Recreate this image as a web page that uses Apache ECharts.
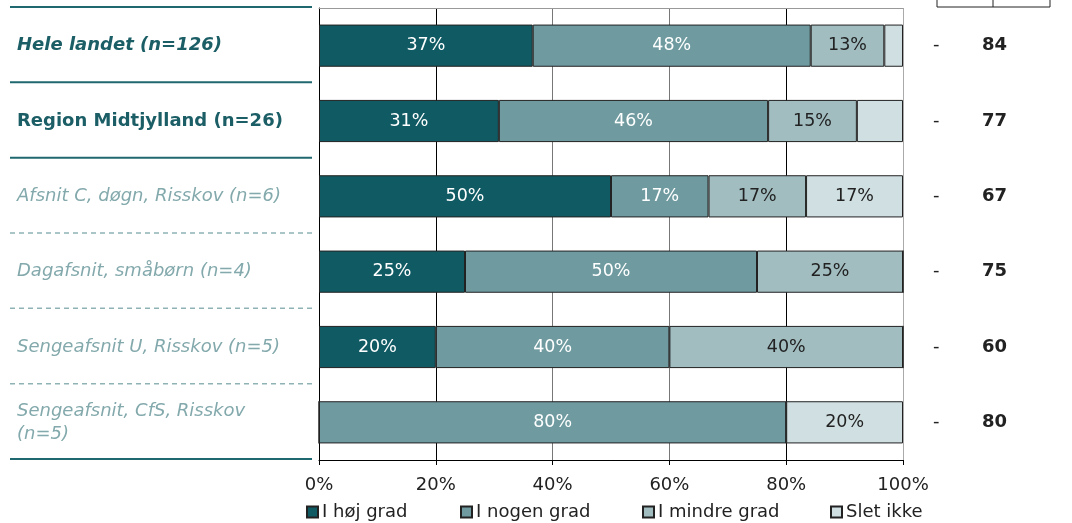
<!DOCTYPE html>
<html><head><meta charset="utf-8">
<script src="https://cdn.jsdelivr.net/npm/echarts@6/dist/echarts.min.js"></script>
<style>html,body{margin:0;padding:0;background:#fff}#c{width:1072px;height:523px}</style>
</head><body><div id="c"></div>
<script>
const categories = ['Hele landet (n=126)','Region Midtjylland (n=26)','Afsnit C, døgn, Risskov (n=6)','Dagafsnit, småbørn (n=4)','Sengeafsnit U, Risskov (n=5)','Sengeafsnit, CfS, Risskov\n(n=5)'];
const seriesNames = ['I høj grad','I nogen grad','I mindre grad','Slet ikke'];
const hoej   = [36.6, 30.8, 50, 25, 20, 0];
const nogen  = [47.6, 46.1, 16.7, 50, 40, 80];
const mindre = [12.6, 15.2, 16.7, 25, 40, 0];
const slet   = [3.2, 7.9, 16.6, 0, 0, 20];
const scores = [84, 77, 67, 75, 60, 80];
const dashes = ['-','-','-','-','-','-'];
const xTicks = [0,20,40,60,80,100];

const FONT = 'DejaVu Sans';
const FS = 18;
const colors = ['#105a64','#6f9ba0','#a1bdc0','#d0dfe1'];
const labelColors = ['#fff','#fff','#222','#222'];
const values = [hoej, nogen, mindre, slet];
const legendLeft = [306, 460, 642, 830];

const GL = 319, GR = 903, GT = 8, GB = 460;
const chart = echarts.init(document.getElementById('c'));
const catStyle = ['a','b','c','c','c','c'];

const series = values.map((arr, i) => ({
  name: seriesNames[i], type: 'bar', stack: 'all', barWidth: '56%',
  data: arr,
  itemStyle: { color: colors[i], borderColor: '#222', borderWidth: 1 },
  label: { show: true, position: 'inside', color: labelColors[i], fontFamily: FONT, fontSize: 17.5,
    formatter: p => p.value >= 10 ? Math.round(p.value) + '%' : '' },
  emphasis: { disabled: true }, animation: false
}));

const h = (GB - GT) / categories.length;
const graphics = [];
for (let i = 0; i <= categories.length; i++) {
  const y = GT + i * h;
  const solid = i <= 2 || i === categories.length;
  graphics.push({ type: 'line', shape: { x1: 10, y1: y - 1, x2: 312, y2: y - 1 },
    style: solid ? { stroke: '#1f6870', lineWidth: 2 } : { stroke: '#8fb3b5', lineWidth: 1.5, lineDash: [5, 4] } });
}
graphics.push({ type: 'polyline', shape: { points: [[937, 0], [937, 7], [1050, 7], [1050, 0]] }, style: { stroke: '#222', lineWidth: 1, fill: null } });
graphics.push({ type: 'line', shape: { x1: 993, y1: 0, x2: 993, y2: 7 }, style: { stroke: '#222', lineWidth: 1 } });

const legends = seriesNames.map((n, i) => ({
  data: [n], top: 503, left: legendLeft[i], padding: 0, itemWidth: 11, itemHeight: 11, itemGap: 0, icon: 'rect', selectedMode: false,
  textStyle: { fontFamily: FONT, fontSize: FS, color: '#222', padding: [0, 0, 0, -1] }
}));

chart.setOption({
  animation: false,
  textStyle: { fontFamily: FONT },
  grid: { left: GL, right: 1072 - GR, top: GT, bottom: 523 - GB, containLabel: false },
  legend: legends,
  xAxis: [{
    type: 'value', min: 0, max: 100, interval: 20,
    axisLine: { show: true, lineStyle: { color: '#000' } },
    axisTick: { show: true, length: 5, lineStyle: { color: '#000' } },
    axisLabel: { fontFamily: FONT, fontSize: FS, color: '#222', margin: 16, formatter: v => xTicks.includes(v) ? v + '%' : '' },
    splitLine: { show: true, lineStyle: { color: ['#000', '#000', '#777', '#777', '#000', '#aaa'], width: 1 } }
  }, {
    type: 'value', position: 'top', min: 0, max: 100,
    axisLine: { show: true, lineStyle: { color: '#999' } }, axisTick: { show: false }, axisLabel: { show: false }, splitLine: { show: false }
  }],
  yAxis: [{
    type: 'category', inverse: true, data: categories,
    axisLine: { show: true, lineStyle: { color: '#000' } }, axisTick: { show: false },
    axisLabel: { align: 'left', margin: GL - 17, lineHeight: 23,
      formatter: (v, i) => v.split('\n').map(s => '{' + catStyle[i] + '|' + s + '}').join('\n'),
      rich: {
        a: { fontFamily: FONT, fontSize: FS, fontWeight: 'bold', fontStyle: 'italic', color: '#1c5e66', lineHeight: 23 },
        b: { fontFamily: FONT, fontSize: FS, fontWeight: 'bold', color: '#1c5e66', lineHeight: 23 },
        c: { fontFamily: FONT, fontSize: FS, fontStyle: 'italic', color: '#83a9ac', lineHeight: 23 }
      } }
  }, {
    type: 'category', inverse: true, position: 'right', data: categories,
    axisLine: { show: false }, axisTick: { show: false },
    axisLabel: { align: 'left', margin: 30,
      formatter: (v, i) => '{d|' + dashes[i] + '}{n|' + scores[i] + '}',
      rich: {
        d: { fontFamily: FONT, fontSize: FS, color: '#222', width: 49 },
        n: { fontFamily: FONT, fontSize: FS, fontWeight: 'bold', color: '#222' }
      } }
  }],
  series: series,
  graphic: graphics
});
</script></body></html>
